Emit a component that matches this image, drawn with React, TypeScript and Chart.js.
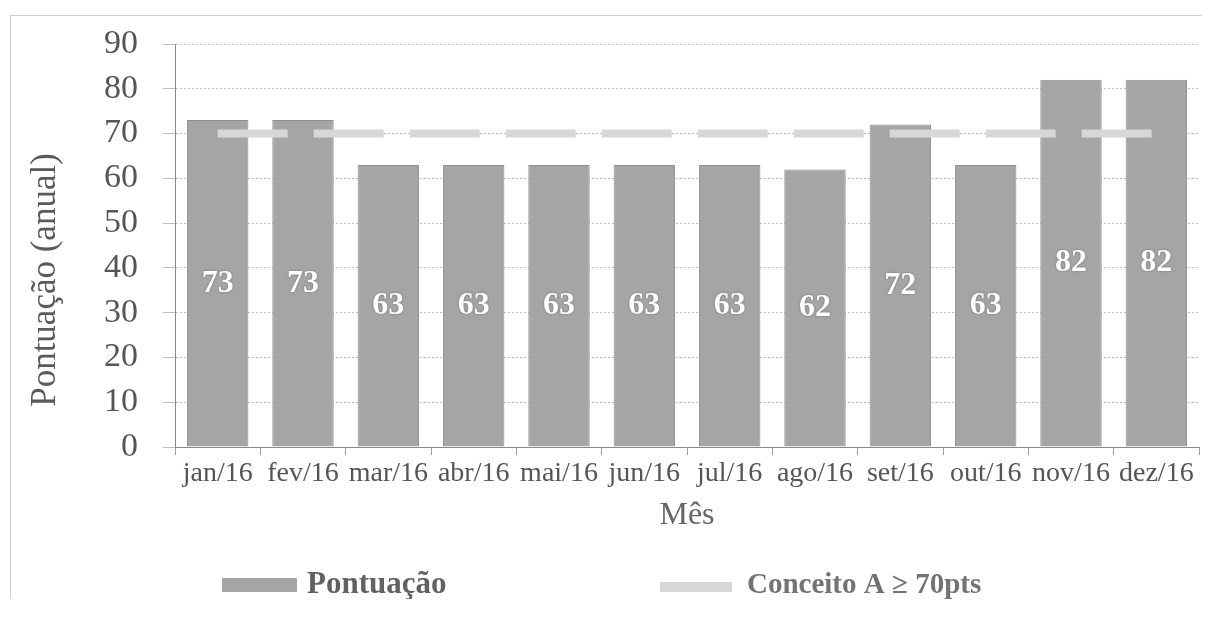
import React, { useEffect, useRef } from 'react';
import { Chart, registerables } from 'chart.js';

Chart.register(...registerables);

const FONT = "'Liberation Serif', 'Times New Roman', serif";

const months = ['jan/16', 'fev/16', 'mar/16', 'abr/16', 'mai/16', 'jun/16', 'jul/16', 'ago/16', 'set/16', 'out/16', 'nov/16', 'dez/16'];
const pontuacao = [73, 73, 63, 63, 63, 63, 63, 62, 72, 63, 82, 82];
const conceitoA = [70, 70, 70, 70, 70, 70, 70, 70, 70, 70, 70, 70];
const yMin = 0;
const yMax = 90;
const yStep = 10;
const seriesNames = ['Pontuação', 'Conceito A ≥ 70pts'];
const axisTitles = { x: 'Mês', y: 'Pontuação (anual)' };

const BAR_COLOR = '#a5a5a5';
const LINE_COLOR = '#d7d7d7';

const valueLabels = {
  id: 'valueLabels',
  afterDatasetsDraw(chart: any) {
    const meta = chart.getDatasetMeta(0);
    const ctx = chart.ctx;
    ctx.save();
    ctx.font = `bold 32px ${FONT}`;
    ctx.textAlign = 'center';
    ctx.textBaseline = 'middle';
    meta.data.forEach((el: any, i: number) => {
      const { x, y, base } = el.getProps(['x', 'y', 'base'], true);
      const cy = (y + base) / 2;
      ctx.shadowColor = 'rgba(60,60,60,0.6)';
      ctx.shadowBlur = 2;
      ctx.fillStyle = '#ffffff';
      ctx.fillText(String(chart.data.datasets[0].data[i]), x, cy);
    });
    ctx.restore();
  },
};

const decorations = {
  id: 'decorations',
  afterDraw(chart: any) {
    const ctx = chart.ctx;
    const W = chart.width;
    const H = chart.height;
    ctx.save();
    // outer dotted frame
    ctx.strokeStyle = '#9a9a9a';
    ctx.lineWidth = 1;
    ctx.setLineDash([1, 1]);
    ctx.strokeRect(0.5, 0.5, W - 1, H - 1);
    ctx.setLineDash([]);
    // y axis title
    ctx.save();
    ctx.translate(36, 265);
    ctx.rotate(-Math.PI / 2);
    ctx.font = `35px ${FONT}`;
    ctx.fillStyle = '#5a5a5a';
    ctx.textAlign = 'center';
    ctx.textBaseline = 'middle';
    ctx.fillText(axisTitles.y, 0, 0);
    ctx.restore();
    // legend
    ctx.textBaseline = 'middle';
    ctx.textAlign = 'left';
    ctx.fillStyle = BAR_COLOR;
    ctx.fillRect(212, 563, 75, 14);
    ctx.font = `bold 31px ${FONT}`;
    ctx.fillStyle = '#616161';
    ctx.fillText(chart.data.datasets[0].label, 297, 570);
    ctx.fillStyle = LINE_COLOR;
    ctx.fillRect(650, 567, 72, 10);
    ctx.font = `bold 29px ${FONT}`;
    ctx.fillStyle = '#737373';
    ctx.fillText(chart.data.datasets[1].label, 737, 571);
    ctx.restore();
  },
};

export default function App() {
  const ref = useRef<HTMLCanvasElement>(null);
  useEffect(() => {
    document.body.style.overflow = 'hidden';
    const chart = new Chart(ref.current!, {
      type: 'bar',
      data: {
        labels: months,
        datasets: [
          {
            type: 'bar',
            label: seriesNames[0],
            data: pontuacao,
            backgroundColor: BAR_COLOR,
            borderColor: '#8e8e8e',
            borderWidth: 1,
            barPercentage: 0.72,
            categoryPercentage: 1,
            order: 1,
          },
          {
            type: 'line',
            label: seriesNames[1],
            data: conceitoA,
            borderColor: LINE_COLOR,
            borderWidth: 8,
            borderDash: [70, 26],
            borderCapStyle: 'butt',
            pointRadius: 0,
            fill: false,
            order: 0,
          } as any,
        ],
      },
      options: {
        animation: false,
        responsive: false,
        maintainAspectRatio: false,
        layout: { padding: { left: 0, right: 5, top: 29, bottom: 59 } },
        plugins: {
          legend: { display: false },
          tooltip: { enabled: false },
        },
        scales: {
          x: {
            type: 'category',
            offset: true,
            afterFit: (s: any) => { s.height = 100; },
            grid: { display: true, drawOnChartArea: false, offset: true, tickLength: 8, color: '#9a9a9a' },
            border: { display: true, color: '#8a8a8a', width: 1 },
            ticks: { font: { family: FONT, size: 28, lineHeight: 1 }, color: '#555', padding: 5, maxRotation: 0, minRotation: 0, autoSkip: false },
            title: { display: true, text: axisTitles.x, font: { family: FONT, size: 32 }, color: '#666', padding: { top: 0, bottom: 12 } },
          },
          y: {
            min: yMin,
            max: yMax,
            afterFit: (s: any) => { s.width = 165; },
            grid: { color: '#bdbdbd', tickLength: 12 },
            border: { display: true, color: '#8a8a8a', width: 1, dash: [2, 2] },
            ticks: { stepSize: yStep, autoSkip: false, font: { family: FONT, size: 34, lineHeight: 0.2 }, color: '#555', padding: 25 },
            title: { display: false, text: axisTitles.y },
          },
        },
      },
      plugins: [valueLabels, decorations],
    } as any);
    return () => chart.destroy();
  }, []);
  return (
    <div style={{ position: 'relative', left: 2, top: 7, width: 1194, height: 591 }}>
      <canvas ref={ref} width={1194} height={591} style={{ display: 'block', width: 1194, height: 591 }} />
    </div>
  );
}
